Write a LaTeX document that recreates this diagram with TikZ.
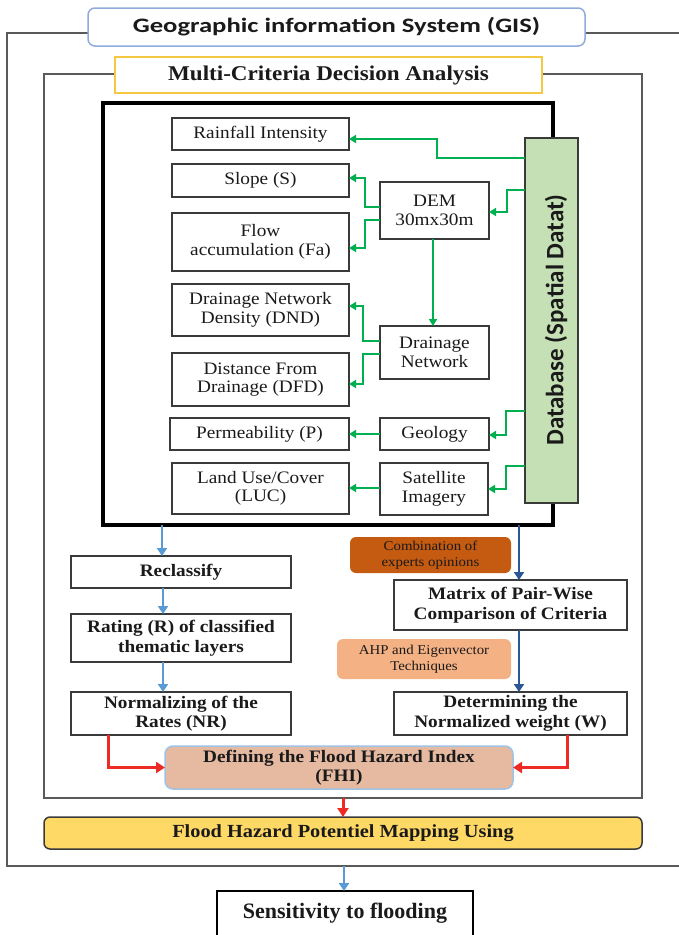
\documentclass[tikz,border=0pt]{standalone}
\usepackage{fontspec}
\usetikzlibrary{arrows.meta}

% Fonts
\newfontfamily\serifx[FakeStretch=1.1]{Liberation Serif}
\newfontfamily\serifn{Liberation Serif}
\newfontfamily\headx[FakeStretch=1.3]{Carlito}
\newfontfamily\dbfont{Carlito}

% Colours
\definecolor{framegray}{HTML}{5A5A5A}
\definecolor{boxgray}{HTML}{3A3A3A}
\definecolor{txt}{HTML}{1A1A1A}
\definecolor{gisblue}{HTML}{8FAADC}
\definecolor{mcdagold}{HTML}{F5C842}
\definecolor{dbfill}{HTML}{C5E0B4}
\definecolor{dbgreen}{HTML}{00B050}
\definecolor{lightblue}{HTML}{5B9BD5}
\definecolor{darkblue}{HTML}{2B5797}
\definecolor{combfill}{HTML}{C55A11}
\definecolor{ahpfill}{HTML}{F4B183}
\definecolor{fhifill}{HTML}{E6B9A1}
\definecolor{fhiborder}{HTML}{9DC3E6}
\definecolor{redarrow}{HTML}{EE2A24}
\definecolor{floodfill}{HTML}{FFD966}

\begin{document}
\begin{tikzpicture}[x=1pt,y=-1pt,
  every node/.style={inner sep=0pt, outer sep=0pt},
  frame/.style={draw=framegray, line width=1.6pt},
  layer/.style={draw=boxgray, line width=1.4pt, fill=white, align=center, text=txt,
                font=\serifx\fontsize{17.5}{18.5}\selectfont},
  procbox/.style={draw=boxgray, line width=1.4pt, fill=white, align=center, text=txt,
                font=\serifx\bfseries\fontsize{17.5}{19.5}\selectfont},
  notebox/.style={rounded corners=6pt, align=center, text=txt,
                font=\serifx\fontsize{13.5}{16.5}\selectfont},
  garrow/.style={draw=dbgreen, line width=2.2pt, -{Triangle[length=7pt,width=8pt]}},
  barrow/.style={draw=lightblue, line width=2.8pt, -{Triangle[length=8pt,width=10pt]}},
  darrow/.style={draw=darkblue, line width=2.8pt, -{Triangle[length=8pt,width=10pt]}},
  rarrow/.style={draw=redarrow, line width=3pt, -{Triangle[length=9pt,width=11pt]}},
]
\clip (0,0) rectangle (679,935);

% Enclosing frames
\node[frame, minimum width=693, minimum height=833] (gisframe) at (353.5,449.5) {};
\node[frame, minimum width=598, minimum height=724] (mcdaframe) at (343,436) {};

% Frame titles
\node[draw=gisblue, line width=1.5pt, fill=white, rounded corners=7pt,
      minimum width=497, minimum height=38, text=txt,
      font=\headx\bfseries\fontsize{20.5}{22}\selectfont]
      (gis) at (336.5,27) {Geographic information System (GIS)};
\node[draw=mcdagold, line width=1.5pt, fill=white,
      minimum width=427, minimum height=36, text=txt,
      font=\serifx\bfseries\fontsize{21}{23}\selectfont]
      (mcda) at (328.5,75) {Multi-Criteria Decision Analysis};

% Thematic layers block
\node[draw=black, line width=3.2pt, minimum width=450, minimum height=422] (inner) at (328,314) {};

% Spatial database
\node[draw=boxgray, line width=1.5pt, fill=dbfill, minimum width=53, minimum height=365] (db) at (551.5,320.5) {};
\node[rotate=90, text=txt, font=\dbfont\bfseries\fontsize{25}{27}\selectfont] (dblabel) at (556,320) {Database (Spatial Datat)};

% Factor layers
\node[layer, minimum width=177, minimum height=32] (rain)  at (260.5,134)   {Rainfall Intensity};
\node[layer, minimum width=177, minimum height=33] (slope) at (260.5,180.5) {Slope (S)};
\node[layer, minimum width=177, minimum height=58] (flow)  at (260.5,242)   {Flow\\accumulation (Fa)};
\node[layer, minimum width=177, minimum height=52] (dnd)   at (260.5,310)   {Drainage Network\\Density (DND)};
\node[layer, minimum width=177, minimum height=53] (dfd)   at (260.5,379.5) {Distance From\\Drainage (DFD)};
\node[layer, minimum width=179, minimum height=32] (perm)  at (259.5,434)   {Permeability (P)};
\node[layer, minimum width=177, minimum height=51] (luc)   at (260.5,488.5) {Land Use/Cover\\(LUC)};

% Source data
\node[layer, minimum width=109, minimum height=57] (dem) at (434.5,210.5) {DEM\\30mx30m};
\node[layer, minimum width=109, minimum height=53] (dn)  at (434.5,352.5) {Drainage\\Network};
\node[layer, minimum width=109, minimum height=32] (geo) at (434.5,434)   {Geology};
\node[layer, minimum width=108, minimum height=52] (sat) at (434,489)     {Satellite\\Imagery};

% Data flow inside the block
\draw[garrow] (db.west |- 0,158) -| (437,139) -- (rain.east |- 0,139);
\draw[garrow] (db.west |- 0,190) -| (507,212) -- (dem.east |- 0,212);
\draw[garrow] (dem.west |- 0,207) -| (365,178) -- (slope.east |- 0,178);
\draw[garrow] (dem.west |- 0,220) -| (365,248) -- (flow.east |- 0,248);
\draw[garrow] (dem.south -| 433,0) -- (dn.north -| 433,0);
\draw[garrow] (dn.west |- 0,341) -| (363,306) -- (dnd.east |- 0,306);
\draw[garrow] (dn.west |- 0,354) -| (363,384) -- (dfd.east |- 0,384);
\draw[garrow] (db.west |- 0,411) -| (506,435) -- (geo.east |- 0,435);
\draw[garrow] (geo.west |- 0,434) -- (perm.east |- 0,434);
\draw[garrow] (db.west |- 0,466) -| (506,489) -- (sat.east |- 0,489);
\draw[garrow] (sat.west |- 0,488) -- (luc.east |- 0,488);

% Rating branch
\node[procbox, minimum width=220, minimum height=32] (reclass) at (181,572)   {Reclassify};
\node[procbox, minimum width=220, minimum height=48] (rating)  at (181,638)   {Rating (R) of classified\\thematic layers};
\node[procbox, minimum width=220, minimum height=43] (norm)    at (181,713.5) {Normalizing of the\\Rates (NR)};

% Weighting branch
\node[notebox, fill=combfill, minimum width=161, minimum height=36] (comb) at (430.5,555) {Combination of\\experts opinions};
\node[procbox, minimum width=233, minimum height=50] (matrix) at (510.5,605)   {Matrix of Pair-Wise\\Comparison of Criteria};
\node[notebox, fill=ahpfill, minimum width=174, minimum height=40] (ahp) at (424,659) {AHP and Eigenvector\\Techniques};
\node[procbox, minimum width=233, minimum height=43] (determ) at (510.5,713.5) {Determining the\\Normalized weight (W)};

% Index and mapping
\node[draw=fhiborder, line width=1.5pt, fill=fhifill, rounded corners=8pt, align=center, text=txt,
      minimum width=348, minimum height=43,
      font=\serifx\bfseries\fontsize{17.5}{19.5}\selectfont]
      (fhi) at (339,767.5) {Defining the Flood Hazard Index\\(FHI)};
\node[draw=boxgray, line width=1.5pt, fill=floodfill, rounded corners=6pt, text=txt,
      minimum width=598, minimum height=32,
      font=\serifx\bfseries\fontsize{18.5}{20}\selectfont]
      (flood) at (343,833) {Flood Hazard Potentiel Mapping Using};

% Result
\node[draw=black, line width=1.5pt, fill=white, minimum width=256, minimum height=80, anchor=north] (sens) at (345,891) {};
\node[text=txt, font=\serifn\bfseries\fontsize{22}{24}\selectfont] (senstext) at (345,913) {Sensitivity to flooding};

% Process arrows
\draw[barrow] (inner.south -| 162,0) -- (reclass.north -| 162,0);
\draw[barrow] (reclass.south -| 163,0) -- (rating.north -| 163,0);
\draw[barrow] (rating.south -| 163,0) -- (norm.north -| 163,0);
\draw[darrow] (inner.south -| 519,0) -- (matrix.north -| 519,0);
\draw[darrow] (matrix.south -| 519,0) -- (determ.north -| 519,0);
\draw[rarrow] (norm.south -| 108,0) |- (fhi.west);
\draw[rarrow] (determ.south -| 567,0) |- (fhi.east);
\draw[rarrow] (mcdaframe.south -| 343,0) -- (flood.north -| 343,0);
\draw[barrow] (gisframe.south -| 344,0) -- (sens.north -| 344,0);
\end{tikzpicture}
\end{document}
